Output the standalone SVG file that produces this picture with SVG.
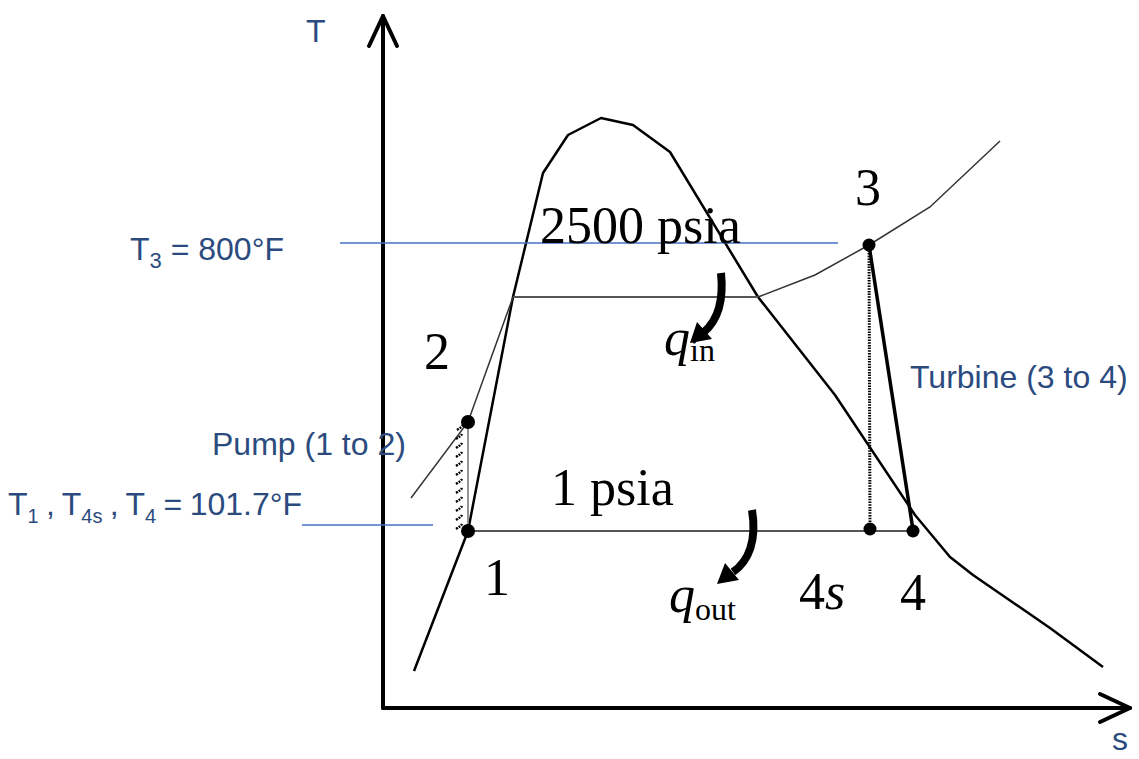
<svg xmlns="http://www.w3.org/2000/svg" width="1139" height="759" viewBox="0 0 1139 759">
<style>
.ax{stroke:#000;stroke-width:4;fill:none;stroke-linecap:round;stroke-linejoin:round}
.dome{stroke:#000;stroke-width:2.5;fill:none;stroke-linejoin:round}
.thin{stroke:#333;stroke-width:1.5;fill:none}
.iso{stroke:#555;stroke-width:1.8;fill:none}
.blue{stroke:#4472c4;stroke-width:1.5;fill:none}
.lbl{font-family:"Liberation Sans",Arial,sans-serif;fill:#2b4b7e;font-size:32px}
.num{font-family:"Liberation Serif","Times New Roman",serif;fill:#000;font-size:52px}
.dot{fill:#000}
.carrow{stroke:#000;stroke-width:8;fill:none}
</style>
<g id="axes">
<path class="ax" d="M383 708 V16"/>
<path class="ax" d="M369 46 L383 16 L397 46"/>
<path class="ax" d="M383 708 H1130"/>
<path class="ax" d="M1100 694 L1130 708 L1100 722"/>
<text class="lbl" x="306" y="42">T</text>
<text class="lbl" x="1112" y="750">s</text>
</g>
<g id="dome">
<path class="dome" d="M414 671 L468 531 L513 297 L543 173 L568 135 L601 118 L633 125 L670 152 L758 297 L835 395 L915 515 L950 557 L973 575 L1050 628 L1103 667"/>
</g>
<g id="connectors">
<path class="iso" d="M513 297 H758"/>
<path class="thin" d="M758 297 L815 275 L869 245 L930 207 L1000 141"/>
<path class="thin" d="M411 498 L468 422 L513 297"/>
<path class="iso" d="M468 531 H913"/>
<path class="iso" d="M468 422 V531" style="stroke:#888"/>
<path d="M457 430 q5 -3 6 -5 M456 439 q5 -3 6 -5 M456 448 q5 -3 6 -5 M456 457 q5 -3 6 -5 M456 466 q5 -3 6 -5 M456 475 q5 -3 6 -5 M456 484 q5 -3 6 -5 M456 493 q5 -3 6 -5 M456 502 q5 -3 6 -5 M456 511 q5 -3 6 -5 M456 520 q5 -3 6 -5 M456 529 q5 -3 6 -5" stroke="#000" stroke-width="2.5" fill="none" stroke-dasharray="2 1"/>
<path d="M869 245 L913 530" stroke="#000" stroke-width="3.5" fill="none"/>
<path d="M869 245 L870 528" stroke="#000" stroke-width="3" fill="none" stroke-dasharray="1.5 1.2"/>
<path class="blue" d="M340 243 H838"/>
<path class="blue" d="M302 525 H433"/>
<path class="carrow" d="M721 273 C724 302 718 320 704 332"/>
<polygon points="690,343 697,322 712,339"/>
<path class="carrow" d="M752 510 C757 540 749 561 733 572"/>
<polygon points="717,584 725,563 739,580"/>
</g>
<g id="point1"><circle class="dot" cx="468" cy="531" r="7"/><text class="num" x="484" y="595">1</text></g>
<g id="point2"><circle class="dot" cx="468" cy="422" r="7"/><text class="num" x="424" y="369">2</text></g>
<g id="point3"><circle class="dot" cx="869" cy="245" r="6.5"/><text class="num" x="855" y="205">3</text></g>
<g id="point4s"><circle class="dot" cx="870" cy="529" r="6.5"/><text class="num" x="799" y="609" font-size="54">4<tspan font-style="italic">s</tspan></text></g>
<g id="point4"><circle class="dot" cx="913" cy="531" r="6.5"/><text class="num" x="900" y="610" font-size="54">4</text></g>
<g id="labels">
<text class="num" x="540" y="243">2500 psia</text>
<text class="num" x="551" y="505" font-size="54">1 psia</text>
<text class="num" x="664" y="355" font-size="54"><tspan font-style="italic">q</tspan><tspan font-size="32" dy="6">in</tspan></text>
<text class="num" x="669" y="612" font-size="54"><tspan font-style="italic">q</tspan><tspan font-size="32" dy="8">out</tspan></text>
<text class="lbl" x="130" y="260" font-size="33">T<tspan font-size="22" dy="8">3</tspan><tspan dy="-8"> = 800°F</tspan></text>
<text class="lbl" x="8" y="515" font-size="31" word-spacing="-1.5">T<tspan font-size="20" dy="8">1</tspan><tspan dy="-8"> , T</tspan><tspan font-size="20" dy="8">4s</tspan><tspan dy="-8"> , T</tspan><tspan font-size="20" dy="8">4</tspan><tspan dy="-8"> = 101.7°F</tspan></text>
<text class="lbl" x="212" y="455">Pump (1 to 2)</text>
<text class="lbl" x="910" y="388">Turbine (3 to 4)</text>
</g>
</svg>
